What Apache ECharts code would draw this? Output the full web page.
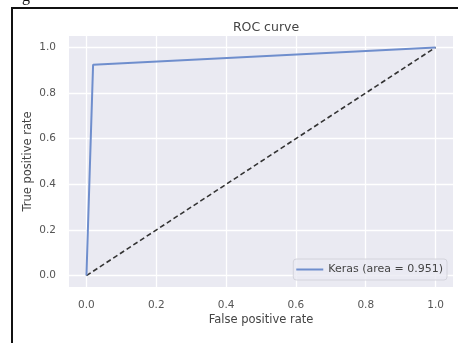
<!DOCTYPE html>
<html lang="en">
<head>
  <meta charset="UTF-8">
  <title>ROC curve</title>
  <style>
    html, body { margin: 0; padding: 0; background: #fff; }
  </style>
</head>
<body>
  <div id="main" style="width:458px;height:343px;"></div>
  <script src="https://cdn.jsdelivr.net/npm/echarts@6/dist/echarts.min.js"></script>
  <script>
    // ROC points
    var fpr = [0, 0.019, 1];
    var tpr = [0, 0.924, 1];
    var chanceX = [0, 1];
    var chanceY = [0, 1];
    var tickValues = [0, 0.2, 0.4, 0.6, 0.8, 1.0];
    var seriesName = 'Keras (area = 0.951)';

    var rocData = fpr.map(function (x, i) { return [x, tpr[i]]; });
    var chanceData = chanceX.map(function (x, i) { return [x, chanceY[i]]; });

    var font = 'DejaVu Sans';
    var myChart = echarts.init(document.getElementById('main'));

    function axis(name, gap, rotate) {
      return {
        type: 'value',
        min: -0.05,
        max: 1.05,
        name: name,
        nameLocation: 'middle',
        nameGap: gap,
        nameRotate: rotate,
        nameMoveOverlap: false,
        nameTextStyle: { color: '#444', fontSize: 11.5, fontFamily: font },
        axisLine: { show: false },
        axisTick: { show: false, customValues: tickValues },
        axisLabel: {
          customValues: tickValues,
          color: '#555', fontSize: 10.5, fontFamily: font, margin: 13,
          formatter: function (v) { return v.toFixed(1); }
        },
        splitLine: { show: true, lineStyle: { color: '#ffffff', width: 1.3 } }
      };
    }

    myChart.setOption({
      backgroundColor: '#ffffff',
      animation: false,
      title: {
        text: 'ROC curve',
        left: 261,
        top: 16,
        textAlign: 'center',
        textStyle: { color: '#444', fontSize: 12.5, fontWeight: 'normal', fontFamily: font }
      },
      grid: {
        left: 69, right: 5, top: 36, bottom: 56,
        show: true, backgroundColor: '#eaeaf2', borderWidth: 0
      },
      xAxis: axis('False positive rate', 27, 0),
      yAxis: axis('True positive rate', 35, 90),
      legend: {
        right: 11,
        top: 259,
        data: [seriesName],
        orient: 'vertical',
        backgroundColor: 'rgba(234,234,242,0.8)',
        borderColor: '#d4d4dc',
        borderWidth: 1,
        borderRadius: 3,
        padding: [5, 4, 5, 3],
        itemWidth: 27,
        itemHeight: 2,
        itemGap: 6,
        icon: 'rect',
        textStyle: { color: '#444', fontSize: 11, fontFamily: font }
      },
      graphic: [
        {
          type: 'rect',
          shape: { x: 12, y: 8, width: 460, height: 360 },
          style: { fill: 'none', stroke: '#111', lineWidth: 2 },
          z: 100
        },
        {
          type: 'text',
          left: 22,
          top: -11,
          style: { text: 'g', font: '16px "Liberation Serif"', fill: '#111' }
        }
      ],
      series: [
        {
          name: seriesName,
          type: 'line',
          data: rocData,
          symbol: 'none',
          lineStyle: { color: '#6f8ecd', width: 2 },
          itemStyle: { color: '#6f8ecd' },
          z: 3
        },
        {
          name: 'chance',
          type: 'line',
          data: chanceData,
          symbol: 'none',
          lineStyle: { color: '#333', width: 1.6, type: [5, 3] },
          z: 2
        }
      ]
    });
  </script>
</body>
</html>
